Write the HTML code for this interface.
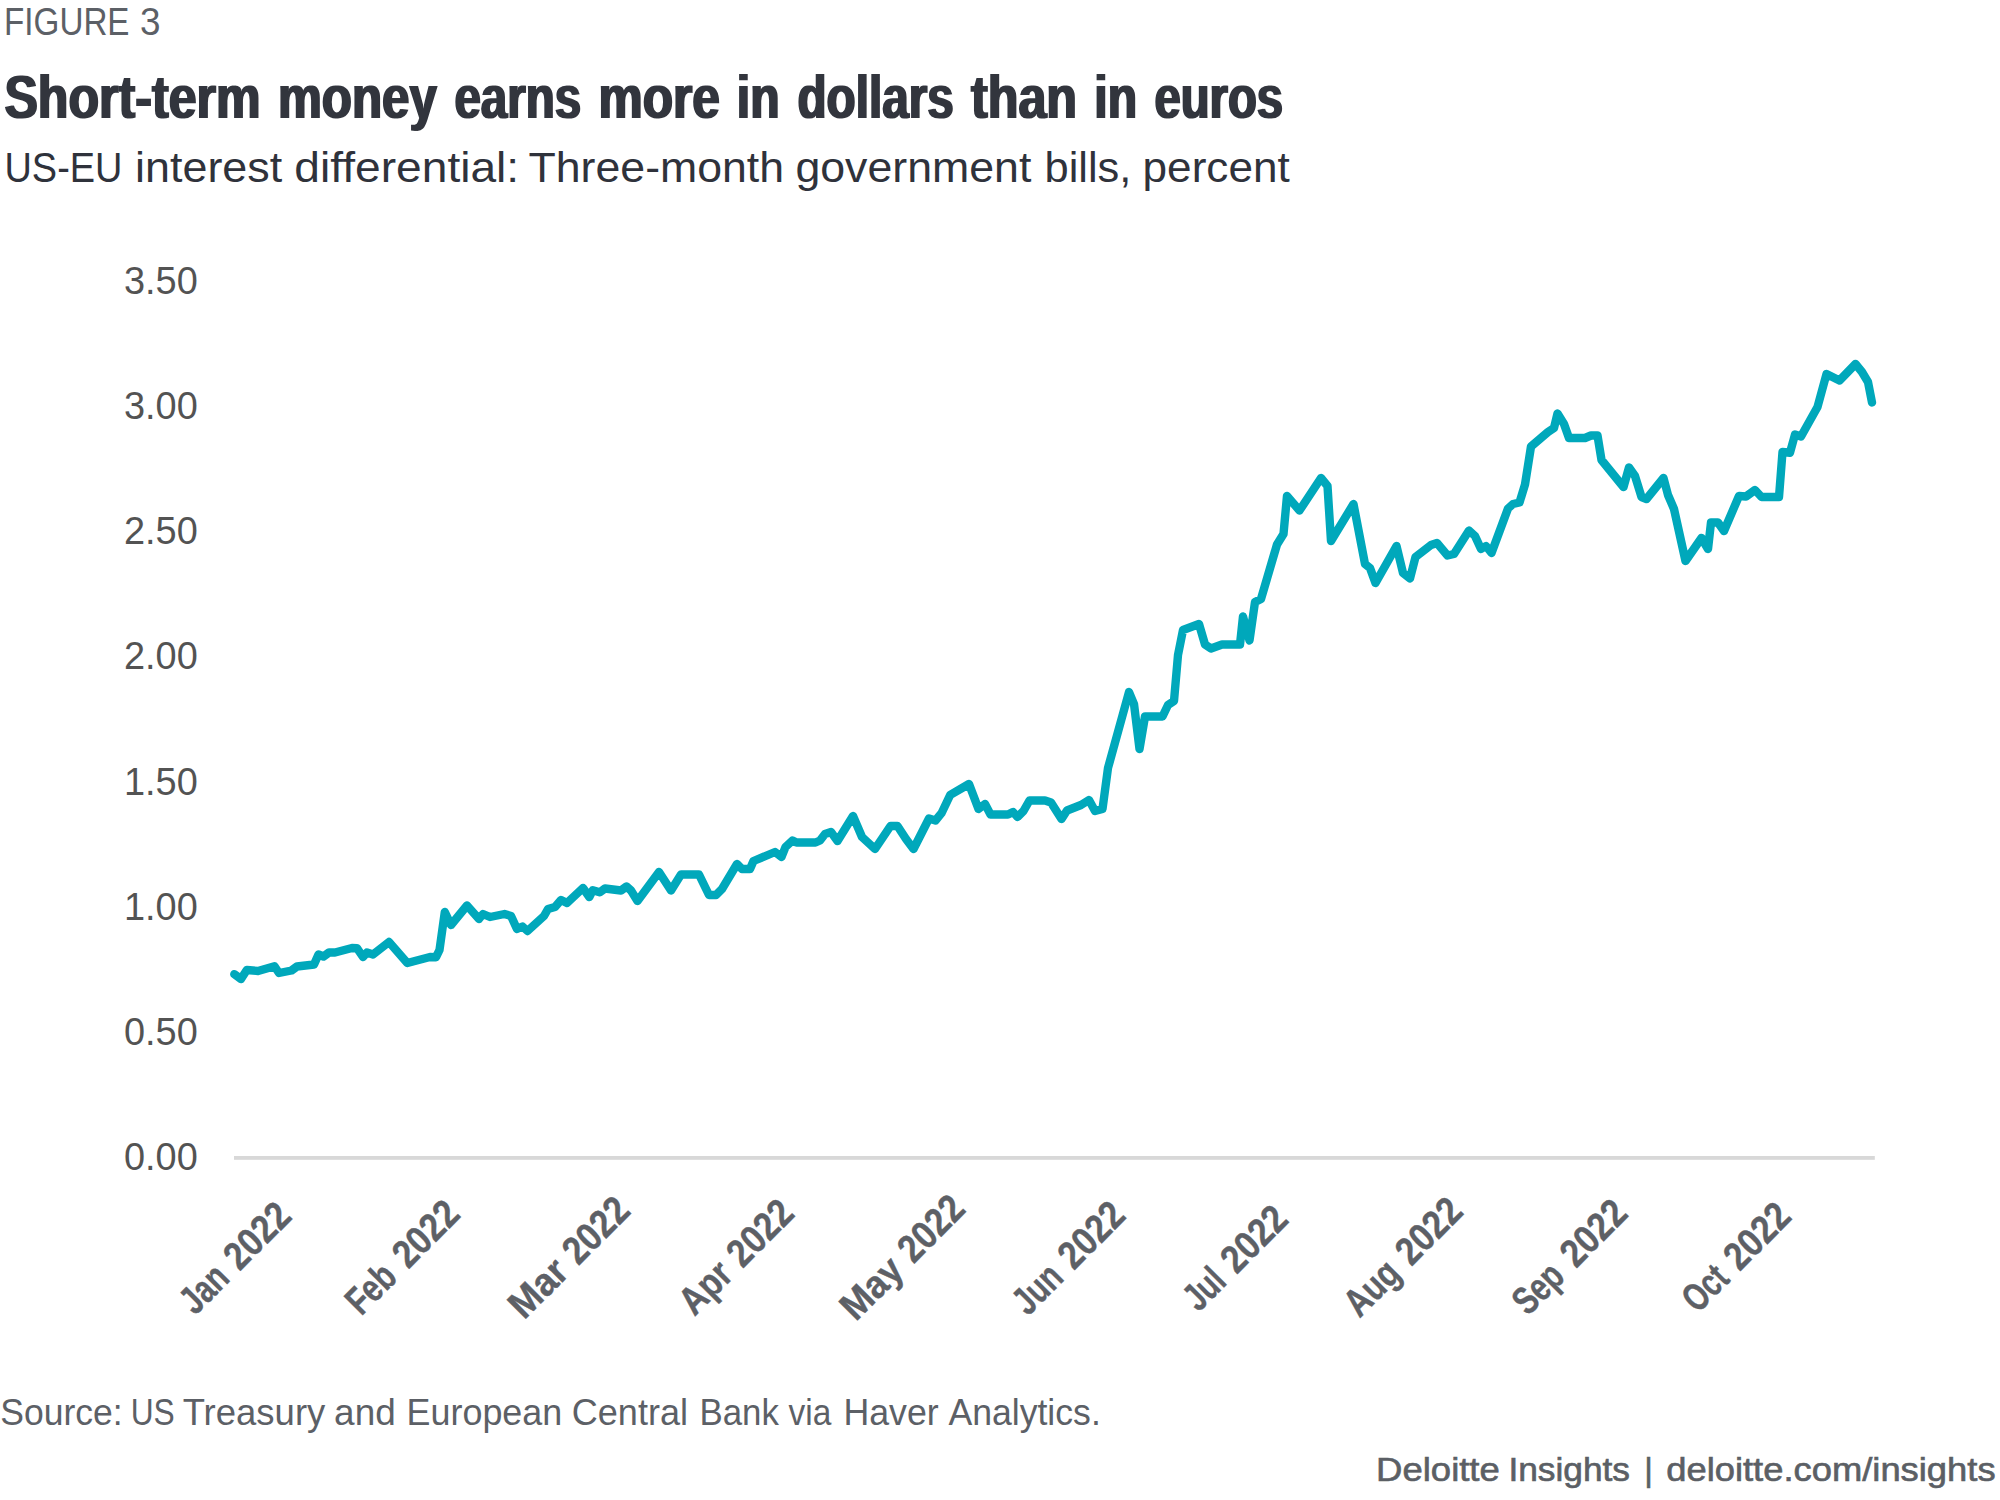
<!DOCTYPE html>
<html lang="en">
<head>
<meta charset="utf-8">
<title>Figure 3 - Short-term money earns more in dollars than in euros</title>
<style>
html,body{margin:0;padding:0;background:#fff;}
body{width:2000px;height:1500px;overflow:hidden;}
svg{display:block;}
text{font-family:"Liberation Sans",sans-serif;white-space:pre;}
.fig{fill:#5c6066;}
.title{fill:#32353e;font-weight:bold;}
.sub{fill:#2f323b;}
.yl{fill:#535353;}
.xl{fill:#5d6066;font-weight:bold;stroke:#5d6066;stroke-width:0.4px;}
.src{fill:#5c6066;}
.foot{fill:#5b5f65;stroke:#5b5f65;stroke-width:0.65px;}
</style>
</head>
<body>
<svg width="2000" height="1500" viewBox="0 0 2000 1500">
<defs><filter id="hx" x="-1%" y="-30%" width="102%" height="160%"><feMorphology operator="dilate" radius="1 0"/></filter></defs>
<rect x="0" y="0" width="2000" height="1500" fill="#ffffff"/>
<text class="fig" y="35" font-size="38.5"><tspan x="4.10" textLength="125.40" lengthAdjust="spacingAndGlyphs">FIGURE</tspan> <tspan x="140.00" textLength="20.50" lengthAdjust="spacingAndGlyphs">3</tspan></text>
<text class="title" y="118" font-size="62" filter="url(#hx)"><tspan x="4.40" textLength="256.30" lengthAdjust="spacingAndGlyphs">Short-term</tspan> <tspan x="277.90" textLength="159.00" lengthAdjust="spacingAndGlyphs">money</tspan> <tspan x="454.40" textLength="126.80" lengthAdjust="spacingAndGlyphs">earns</tspan> <tspan x="598.50" textLength="121.50" lengthAdjust="spacingAndGlyphs">more</tspan> <tspan x="736.80" textLength="42.80" lengthAdjust="spacingAndGlyphs">in</tspan> <tspan x="797.50" textLength="156.20" lengthAdjust="spacingAndGlyphs">dollars</tspan> <tspan x="970.90" textLength="106.20" lengthAdjust="spacingAndGlyphs">than</tspan> <tspan x="1094.30" textLength="42.80" lengthAdjust="spacingAndGlyphs">in</tspan> <tspan x="1154.40" textLength="128.70" lengthAdjust="spacingAndGlyphs">euros</tspan></text>
<text class="sub" y="182" font-size="42.8"><tspan x="4.50" textLength="117.90" lengthAdjust="spacingAndGlyphs">US-EU</tspan> <tspan x="135.10" textLength="147.10" lengthAdjust="spacingAndGlyphs">interest</tspan> <tspan x="294.30" textLength="224.90" lengthAdjust="spacingAndGlyphs">differential:</tspan> <tspan x="528.50" textLength="255.60" lengthAdjust="spacingAndGlyphs">Three-month</tspan> <tspan x="795.40" textLength="236.00" lengthAdjust="spacingAndGlyphs">government</tspan> <tspan x="1044.50" textLength="86.90" lengthAdjust="spacingAndGlyphs">bills,</tspan> <tspan x="1142.60" textLength="147.10" lengthAdjust="spacingAndGlyphs">percent</tspan></text>
<g>
<text class="yl" x="124" y="294" font-size="38.5" textLength="73.8" lengthAdjust="spacingAndGlyphs">3.50</text>
<text class="yl" x="124" y="419.14" font-size="38.5" textLength="73.8" lengthAdjust="spacingAndGlyphs">3.00</text>
<text class="yl" x="124" y="544.28" font-size="38.5" textLength="73.8" lengthAdjust="spacingAndGlyphs">2.50</text>
<text class="yl" x="124" y="669.42" font-size="38.5" textLength="73.8" lengthAdjust="spacingAndGlyphs">2.00</text>
<text class="yl" x="124" y="794.56" font-size="38.5" textLength="73.8" lengthAdjust="spacingAndGlyphs">1.50</text>
<text class="yl" x="124" y="919.7" font-size="38.5" textLength="73.8" lengthAdjust="spacingAndGlyphs">1.00</text>
<text class="yl" x="124" y="1044.84" font-size="38.5" textLength="73.8" lengthAdjust="spacingAndGlyphs">0.50</text>
<text class="yl" x="124" y="1169.98" font-size="38.5" textLength="73.8" lengthAdjust="spacingAndGlyphs">0.00</text>
</g>
<rect x="234" y="1156" width="1640.8" height="3.8" fill="#d8d8d8"/>
<path d="M234.3 974.2 L241 979 L246.8 970 L258 971 L274.5 966.2 L279 973 L291.5 970.5 L297 966.5 L314 964.5 L318.5 954.5 L323.5 956.5 L329 952.5 L335 952.5 L352 948 L357 948.2 L363 957 L367 952.5 L373 954.5 L389 942 L407.3 963 L430 957 L436 957.2 L439.5 950 L444.8 912 L451 925 L467 905.5 L479 919 L483 914 L490 917 L504.5 914 L511 916 L517 929 L522.5 926.5 L527.5 931 L544 916 L548 909 L555 907 L561 900 L567 903 L583 888 L589.3 897 L592.8 890.2 L599.7 892.3 L605 888.5 L621 890.5 L626.5 886.5 L631 890.5 L637.5 901 L659 872 L671 890.5 L681 874.5 L699 874.5 L709 895 L716 895 L722 889 L737 864 L742 869 L750 869 L753.5 861 L775 852 L781.5 857 L785.5 847 L792.5 840.5 L796.5 842.5 L815.5 842.5 L820 840.5 L825 834 L831 832 L837.5 841 L853 816 L862 837 L875 849 L890.5 826 L897.5 826 L906 839 L913.5 849 L929 818.5 L935.5 820.5 L941.5 813.2 L950.3 794.8 L969 784 L978.5 809 L985 804 L990.5 814.5 L1008 814.5 L1013 812 L1017.5 817 L1023.5 811 L1029.5 800.5 L1045 800.5 L1051 802.5 L1061.5 819 L1067 810.5 L1081 805 L1089 800 L1095 811 L1102.5 809 L1108 768 L1129 692 L1134 704 L1139.5 749 L1145 716.5 L1162.5 716.5 L1168 705 L1174 701 L1178 655 L1183 630 L1199 624 L1205 644.5 L1211 648.5 L1222 644.5 L1240 644.5 L1243 616.5 L1249.5 640.5 L1255 602 L1261 599 L1277 544.5 L1283.5 534 L1287 496 L1299.5 510.5 L1321 478 L1327.5 486 L1331 541 L1353.5 504 L1365 564 L1370 568 L1375.5 583 L1396.5 546 L1403 573 L1410 578.5 L1415.5 557 L1431 545 L1437 543 L1447.5 555.5 L1454 554 L1469 530.5 L1475 536 L1481 549 L1486 546 L1491.5 553 L1508 508.5 L1513 504 L1519.5 502.5 L1525 484.5 L1531 446.5 L1548 432 L1554 428 L1557.5 413.5 L1564 424 L1569 438 L1585 438 L1591 435.5 L1597.5 435.5 L1601.5 460 L1623.5 487 L1629 467.5 L1635 476 L1641.5 497 L1646.5 499 L1663.5 478 L1668 495 L1674 509 L1685.5 561 L1701.5 538 L1708 549 L1711 522.5 L1718 522.5 L1724 531 L1739 496 L1746 496.5 L1755 490 L1761.5 497 L1779 497 L1782.5 452 L1790 452.7 L1795 434.5 L1801 436.5 L1817.5 407 L1826.5 374 L1839.5 380.5 L1855.5 364 L1862 372 L1868 382 L1872 402.5" fill="none" stroke="#00a8bb" stroke-width="8.4" stroke-linejoin="round" stroke-linecap="round"/>
<g>
<text class="xl" font-size="39.2" transform="translate(245.05 1266.25) rotate(-45)" y="0"><tspan x="-70.34" textLength="50.70" lengthAdjust="spacingAndGlyphs">Jan</tspan> <tspan x="-7.69" textLength="75.95" lengthAdjust="spacingAndGlyphs">2022</tspan></text>
<text class="xl" font-size="39.2" transform="translate(411.75 1266.25) rotate(-45)" y="0"><tspan x="-71.50" textLength="53.23" lengthAdjust="spacingAndGlyphs">Feb</tspan> <tspan x="-5.04" textLength="75.95" lengthAdjust="spacingAndGlyphs">2022</tspan></text>
<text class="xl" font-size="39.2" transform="translate(578.45 1266.25) rotate(-45)" y="0"><tspan x="-76.86" textLength="65.80" lengthAdjust="spacingAndGlyphs">Mar</tspan> <tspan x="-0.14" textLength="75.95" lengthAdjust="spacingAndGlyphs">2022</tspan></text>
<text class="xl" font-size="39.2" transform="translate(745.15 1266.25) rotate(-45)" y="0"><tspan x="-71.63" textLength="57.00" lengthAdjust="spacingAndGlyphs">Apr</tspan> <tspan x="-3.79" textLength="75.95" lengthAdjust="spacingAndGlyphs">2022</tspan></text>
<text class="xl" font-size="39.2" transform="translate(911.85 1266.25) rotate(-45)" y="0"><tspan x="-79.26" textLength="70.55" lengthAdjust="spacingAndGlyphs">May</tspan> <tspan x="2.31" textLength="75.95" lengthAdjust="spacingAndGlyphs">2022</tspan></text>
<text class="xl" font-size="39.2" transform="translate(1078.55 1266.25) rotate(-45)" y="0"><tspan x="-71.34" textLength="52.71" lengthAdjust="spacingAndGlyphs">Jun</tspan> <tspan x="-6.69" textLength="75.95" lengthAdjust="spacingAndGlyphs">2022</tspan></text>
<text class="xl" font-size="39.2" transform="translate(1245.25 1266.25) rotate(-45)" y="0"><tspan x="-65.73" textLength="41.65" lengthAdjust="spacingAndGlyphs">Jul</tspan> <tspan x="-12.29" textLength="75.95" lengthAdjust="spacingAndGlyphs">2022</tspan></text>
<text class="xl" font-size="39.2" transform="translate(1411.95 1266.25) rotate(-45)" y="0"><tspan x="-74.28" textLength="60.84" lengthAdjust="spacingAndGlyphs">Aug</tspan> <tspan x="-1.09" textLength="75.95" lengthAdjust="spacingAndGlyphs">2022</tspan></text>
<text class="xl" font-size="39.2" transform="translate(1578.65 1266.25) rotate(-45)" y="0"><tspan x="-71.59" textLength="54.34" lengthAdjust="spacingAndGlyphs">Sep</tspan> <tspan x="-3.89" textLength="75.95" lengthAdjust="spacingAndGlyphs">2022</tspan></text>
<text class="xl" font-size="39.2" transform="translate(1745.35 1266.25) rotate(-45)" y="0"><tspan x="-67.49" textLength="47.38" lengthAdjust="spacingAndGlyphs">Oct</tspan> <tspan x="-8.24" textLength="75.95" lengthAdjust="spacingAndGlyphs">2022</tspan></text>
</g>
<text class="src" y="1425.3" font-size="36.6"><tspan x="0.30" textLength="122.40" lengthAdjust="spacingAndGlyphs">Source:</tspan> <tspan x="130.70" textLength="44.10" lengthAdjust="spacingAndGlyphs">US</tspan> <tspan x="182.70" textLength="142.60" lengthAdjust="spacingAndGlyphs">Treasury</tspan> <tspan x="334.10" textLength="61.60" lengthAdjust="spacingAndGlyphs">and</tspan> <tspan x="406.60" textLength="155.60" lengthAdjust="spacingAndGlyphs">European</tspan> <tspan x="571.80" textLength="116.20" lengthAdjust="spacingAndGlyphs">Central</tspan> <tspan x="699.50" textLength="79.40" lengthAdjust="spacingAndGlyphs">Bank</tspan> <tspan x="788.60" textLength="42.80" lengthAdjust="spacingAndGlyphs">via</tspan> <tspan x="843.40" textLength="95.30" lengthAdjust="spacingAndGlyphs">Haver</tspan> <tspan x="948.40" textLength="152.40" lengthAdjust="spacingAndGlyphs">Analytics.</tspan></text>
<text class="foot" y="1480.5" font-size="34"><tspan x="1376.10" textLength="123.70" lengthAdjust="spacingAndGlyphs">Deloitte</tspan> <tspan x="1508.40" textLength="121.60" lengthAdjust="spacingAndGlyphs">Insights</tspan> <tspan x="1644.20" textLength="8.60" lengthAdjust="spacingAndGlyphs">|</tspan> <tspan x="1666.20" textLength="329.40" lengthAdjust="spacingAndGlyphs">deloitte.com/insights</tspan></text>
</svg>
</body>
</html>
